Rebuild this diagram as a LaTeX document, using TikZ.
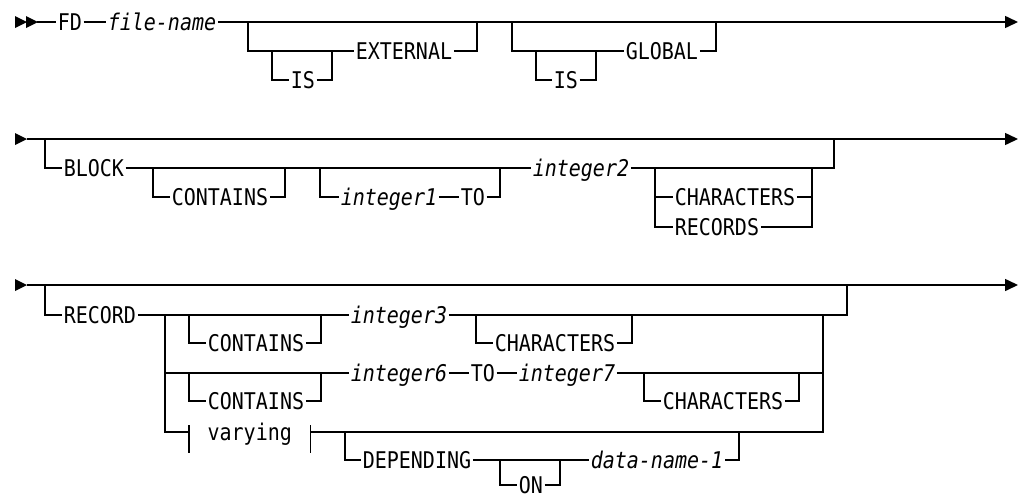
\documentclass[tikz,border=0pt]{standalone}
\usepackage{fontspec}
\usetikzlibrary{arrows.meta}
\newfontfamily\rrfont[FakeStretch=0.87]{DejaVu Sans Mono}

\begin{document}
\begin{tikzpicture}[x=1pt, y=-1pt, line width=1.5pt,
  every node/.style={font=\rrfont\fontsize{23}{27}\selectfont, anchor=west,
    inner xsep=1pt, inner ysep=0pt, text height=16.8pt, text depth=0pt},
  var/.style={font=\rrfont\fontsize{23}{27}\selectfont\itshape},
  frag/.style={minimum width=120pt, inner xsep=0pt},
  flow/.style={-{Triangle[length=13pt,width=12pt]}}]
\useasboundingbox (0,0) rectangle (1024,496);

% row 1: FD file-name [IS] EXTERNAL [IS] GLOBAL
\node (fd)    at (56,22)  {FD};
\node[var] (fname) at (106,22) {file-name};
\node (is1)   at (289,80) {IS};
\node (ext)   at (354,51) {EXTERNAL};
\node (is2)   at (552,80) {IS};
\node (glob)  at (624,51) {GLOBAL};
\coordinate (a1) at (37,22);   \coordinate (e1) at (1018,22);
\coordinate (b1l) at (248,22); \coordinate (b1r) at (477,22);
\coordinate (c1l) at (512,22); \coordinate (c1r) at (716,22);
\coordinate (i1l) at (272,51); \coordinate (i1r) at (332,51);
\coordinate (i2l) at (536,51); \coordinate (i2r) at (596,51);
\draw (a1) -- (fd); \draw (fd) -- (fname); \draw[flow] (fname) -- (e1);
\draw (b1l) |- (ext); \draw (ext) -| (b1r);
\draw (i1l) |- (is1) -| (i1r);
\draw (c1l) |- (glob); \draw (glob) -| (c1r);
\draw (i2l) |- (is2) -| (i2r);

% row 2: BLOCK
\node (block) at (62,168)  {BLOCK};
\node (cont1) at (170,197) {CONTAINS};
\node[var] (int1) at (339,197) {integer1};
\node (to1)   at (459,197) {TO};
\node[var] (int2) at (531,168) {integer2};
\node (chr1)  at (673,197) {CHARACTERS};
\node (recs)  at (673,227) {RECORDS};
\coordinate (a2) at (27,139);  \coordinate (e2) at (1018,139);
\coordinate (bl) at (45,139);  \coordinate (br) at (834,139);
\coordinate (k1l) at (153,168); \coordinate (k1r) at (285,168);
\coordinate (k2l) at (320,168); \coordinate (k2r) at (500,168);
\coordinate (k3l) at (655,168); \coordinate (k3r) at (812,168);
\draw[flow] (a2) -- (e2);
\draw (bl) |- (block); \draw (block) -- (int2); \draw (int2) -| (br);
\draw (k1l) |- (cont1) -| (k1r);
\draw (k2l) |- (int1); \draw (int1) -- (to1); \draw (to1) -| (k2r);
\draw (k3l) |- (chr1) -| (k3r);
\draw (k3l) |- (recs) -| (k3r);

% row 3: RECORD
\node (record) at (62,315) {RECORD};
\node (cont2) at (206,343) {CONTAINS};
\node[var] (int3) at (349,315) {integer3};
\node (chr2)  at (493,343) {CHARACTERS};
\node[var] (int6) at (349,373) {integer6};
\node (to2)   at (469,373) {TO};
\node[var] (int7) at (517,373) {integer7};
\node (cont3) at (206,401) {CONTAINS};
\node (chr3)  at (661,401) {CHARACTERS};
\node[frag] (vary) at (189,432) {varying};
\node (dep)   at (361,460) {DEPENDING};
\node (on)    at (517,485) {ON};
\node[var] (dname) at (589,460) {data-name-1};
\coordinate (a3) at (27,285);  \coordinate (e3) at (1018,285);
\coordinate (rl) at (45,285);  \coordinate (rr) at (847,285);
\coordinate (v1) at (165,315); \coordinate (v2) at (823,315);
\coordinate (m1l) at (189,315); \coordinate (m1r) at (321,315);
\coordinate (m2l) at (476,315); \coordinate (m2r) at (632,315);
\coordinate (m3l) at (189,373); \coordinate (m3r) at (321,373);
\coordinate (m4l) at (644,373); \coordinate (m4r) at (799,373);
\coordinate (d1l) at (345,432); \coordinate (d1r) at (739,432);
\coordinate (o1l) at (500,460); \coordinate (o1r) at (560,460);
\draw[flow] (a3) -- (e3);
\draw (rl) |- (record); \draw (record) -- (int3); \draw (int3) -| (rr);
\draw (m1l) |- (cont2) -| (m1r);
\draw (m2l) |- (chr2) -| (m2r);
\draw (v1) |- (int6); \draw (int6) -- (to2); \draw (to2) -- (int7); \draw (int7) -| (v2);
\draw (m3l) |- (cont3) -| (m3r);
\draw (m4l) |- (chr3) -| (m4r);
\draw (v1) |- (vary); \draw (vary) -| (v2);
\draw ([yshift=7pt]vary.west) -- ([yshift=-21pt]vary.west);
\draw ([yshift=7pt]vary.east) -- ([yshift=-21pt]vary.east);
\draw (d1l) |- (dep); \draw (dep) -- (dname); \draw (dname) -| (d1r);
\draw (o1l) |- (on) -| (o1r);

% start marks
\foreach \x/\y in {15/22, 26/22, 15/139, 15/285}
  \fill (\x,\y-6) -- ++(12,6) -- ++(-12,6) -- cycle;
\end{tikzpicture}
\end{document}
